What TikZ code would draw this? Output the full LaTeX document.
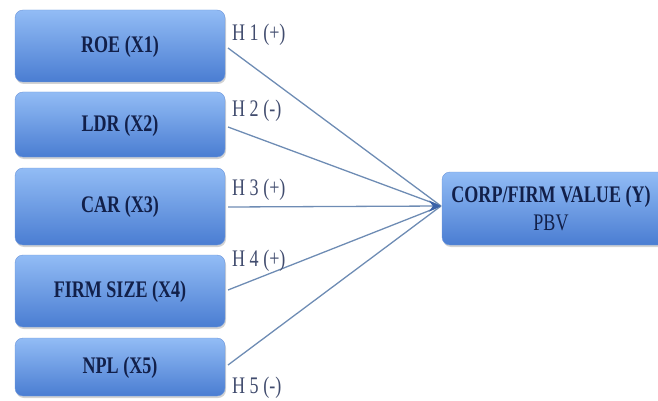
\documentclass[tikz,border=0pt]{standalone}
\usepackage{fontspec}
\setmainfont{Liberation Serif}
\usetikzlibrary{arrows.meta,shadows}
\definecolor{boxtop}{HTML}{92BCF5}
\definecolor{boxbot}{HTML}{4A7DD2}
\definecolor{txt}{HTML}{12204A}
\definecolor{lin}{HTML}{6E8CB4}
\definecolor{tipc}{HTML}{3A62A8}
\newcommand\tallt[1]{\scalebox{0.95}[1.25]{#1}}
\begin{document}
\begin{tikzpicture}[x=1pt,y=-1pt,
  varbox/.style={rounded corners=8pt, top color=boxtop, bottom color=boxbot, draw=boxbot!80!white, line width=0.4pt,
     drop shadow={shadow xshift=1pt,shadow yshift=-2pt,opacity=0.35}},
  lbl/.style={font=\bfseries\fontsize{19}{21}\selectfont, text=txt},
  hyp/.style={font=\fontsize{19}{21}\selectfont, text=txt!80, anchor=west, inner sep=0pt},
  conn/.style={draw=lin, line width=1.3pt},
  arrowend/.style={-{Stealth[length=12pt,width=11pt,color=tipc]}}]
\useasboundingbox (0,0) rectangle (658,401);
% left boxes
\path[varbox] (15,10) rectangle (225,82);
\node[lbl] (x1) at (120,47) {\tallt{ROE (X1)}};
\path[varbox] (15,92) rectangle (225,157);
\node[lbl] (x2) at (120,126) {\tallt{LDR (X2)}};
\path[varbox] (15,168) rectangle (225,245);
\node[lbl] (x3) at (120,207) {\tallt{CAR (X3)}};
\path[varbox] (15,255) rectangle (225,327);
\node[lbl] (x4) at (120,292) {\tallt{FIRM SIZE (X4)}};
\path[varbox] (15,338) rectangle (225,396);
\node[lbl] (x5) at (120,368) {\tallt{NPL (X5)}};
% right box
\path[varbox] (442,172) rectangle (666,245);
\node[lbl] (y) at (551,197) {\tallt{CORP/FIRM VALUE (Y)}};
\node[lbl, font=\fontsize{19}{21}\selectfont] (pbv) at (551,223) {\tallt{PBV}};
% connector start points
\coordinate (s1) at (228,48);
\coordinate (s2) at (228,127);
\coordinate (s3) at (228,207);
\coordinate (s4) at (228,290);
\coordinate (s5) at (228,365);
\coordinate (t) at (441,206);
\foreach \i in {1,2,4,5} \draw[conn] (s\i) -- (t);
\draw[conn,arrowend] (s3) -- (t);
% hypothesis labels
\node[hyp] (h1) at (232,35) {\tallt{H 1 (+)}};
\node[hyp] (h2) at (232,111) {\tallt{H 2 (-)}};
\node[hyp] (h3) at (232,190) {\tallt{H 3 (+)}};
\node[hyp] (h4) at (232,261) {\tallt{H 4 (+)}};
\node[hyp] (h5) at (232,388) {\tallt{H 5 (-)}};
\end{tikzpicture}
\end{document}
